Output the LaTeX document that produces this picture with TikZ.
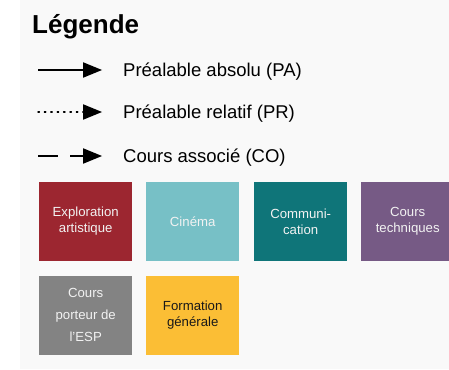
\documentclass[tikz,border=0pt]{standalone}
\usepackage{fontspec}
\setmainfont{Liberation Sans}
\usetikzlibrary{calc}
\definecolor{bgc}{HTML}{F9F9F9}
\definecolor{cred}{HTML}{9C2630}
\definecolor{ccin}{HTML}{77C0C6}
\definecolor{ccom}{HTML}{0F7579}
\definecolor{ctec}{HTML}{765A85}
\definecolor{cesp}{HTML}{838383}
\definecolor{cfg}{HTML}{FBBE35}
\definecolor{wtxt}{HTML}{F2F2F2}
\tikzset{
  catbox/.style={minimum width=93pt, minimum height=78.5pt, inner sep=0pt, align=center, font=\fontsize{13.2}{16}\selectfont, text=wtxt, anchor=north west},
  legline/.style={line width=2.5pt},
  legtext/.style={anchor=base west, font=\fontsize{18.5}{22}\selectfont, inner sep=0pt}
}
\newcommand{\headat}[1]{\fill[black] ($(#1)+(-19,-7.8)$) -- (#1) -- ($(#1)+(-19,7.8)$) -- cycle;}
\begin{document}
\begin{tikzpicture}[x=1pt,y=-1pt]
\useasboundingbox (0,0) rectangle (449,369);
\fill[bgc] (20,0) rectangle (449,369);
\begin{scope}
\clip (0,0) rectangle (449,369);
\node[anchor=base west, inner sep=0pt, font=\bfseries\fontsize{26}{30}\selectfont] (title) at (32,34) {Légende};
% legend
\coordinate (a1s) at (38,70); \coordinate (a1e) at (102,70);
\coordinate (a2s) at (38,112); \coordinate (a2e) at (102,112);
\coordinate (a3s) at (38,156); \coordinate (a3e) at (102,156);
\draw[legline] (a1s) -- (86,70);
\headat{a1e}
\draw[line width=1.4pt, dash pattern=on 1.4pt off 5pt, line cap=round] (a2s) -- (84,112);
\headat{a2e}
\draw[legline] (a3s) -- (58,156);
\draw[legline] (70,156) -- (86,156);
\headat{a3e}
\node[legtext] (t1) at (123,76) {Préalable absolu (PA)};
\node[legtext] (t2) at (123,118) {Préalable relatif (PR)};
\node[legtext] (t3) at (123,162) {Cours associé (CO)};
% boxes
\node[catbox, fill=cred] (b1) at (39,182) {Exploration\\artistique};
\node[catbox, fill=ccin] (b2) at (146,182) {Cinéma};
\node[catbox, fill=ccom] (b3) at (254,182) {Communi-\\cation};
\node[catbox, fill=ctec] (b4) at (361,182) {Cours\\techniques};
\node[catbox, fill=cesp, font=\fontsize{13.2}{22}\selectfont] (b5) at (39,276) {Cours\\porteur de\\l'ESP};
\node[catbox, fill=cfg, text=black!90] (b6) at (146,276) {Formation\\générale};
\end{scope}
\end{tikzpicture}
\end{document}
